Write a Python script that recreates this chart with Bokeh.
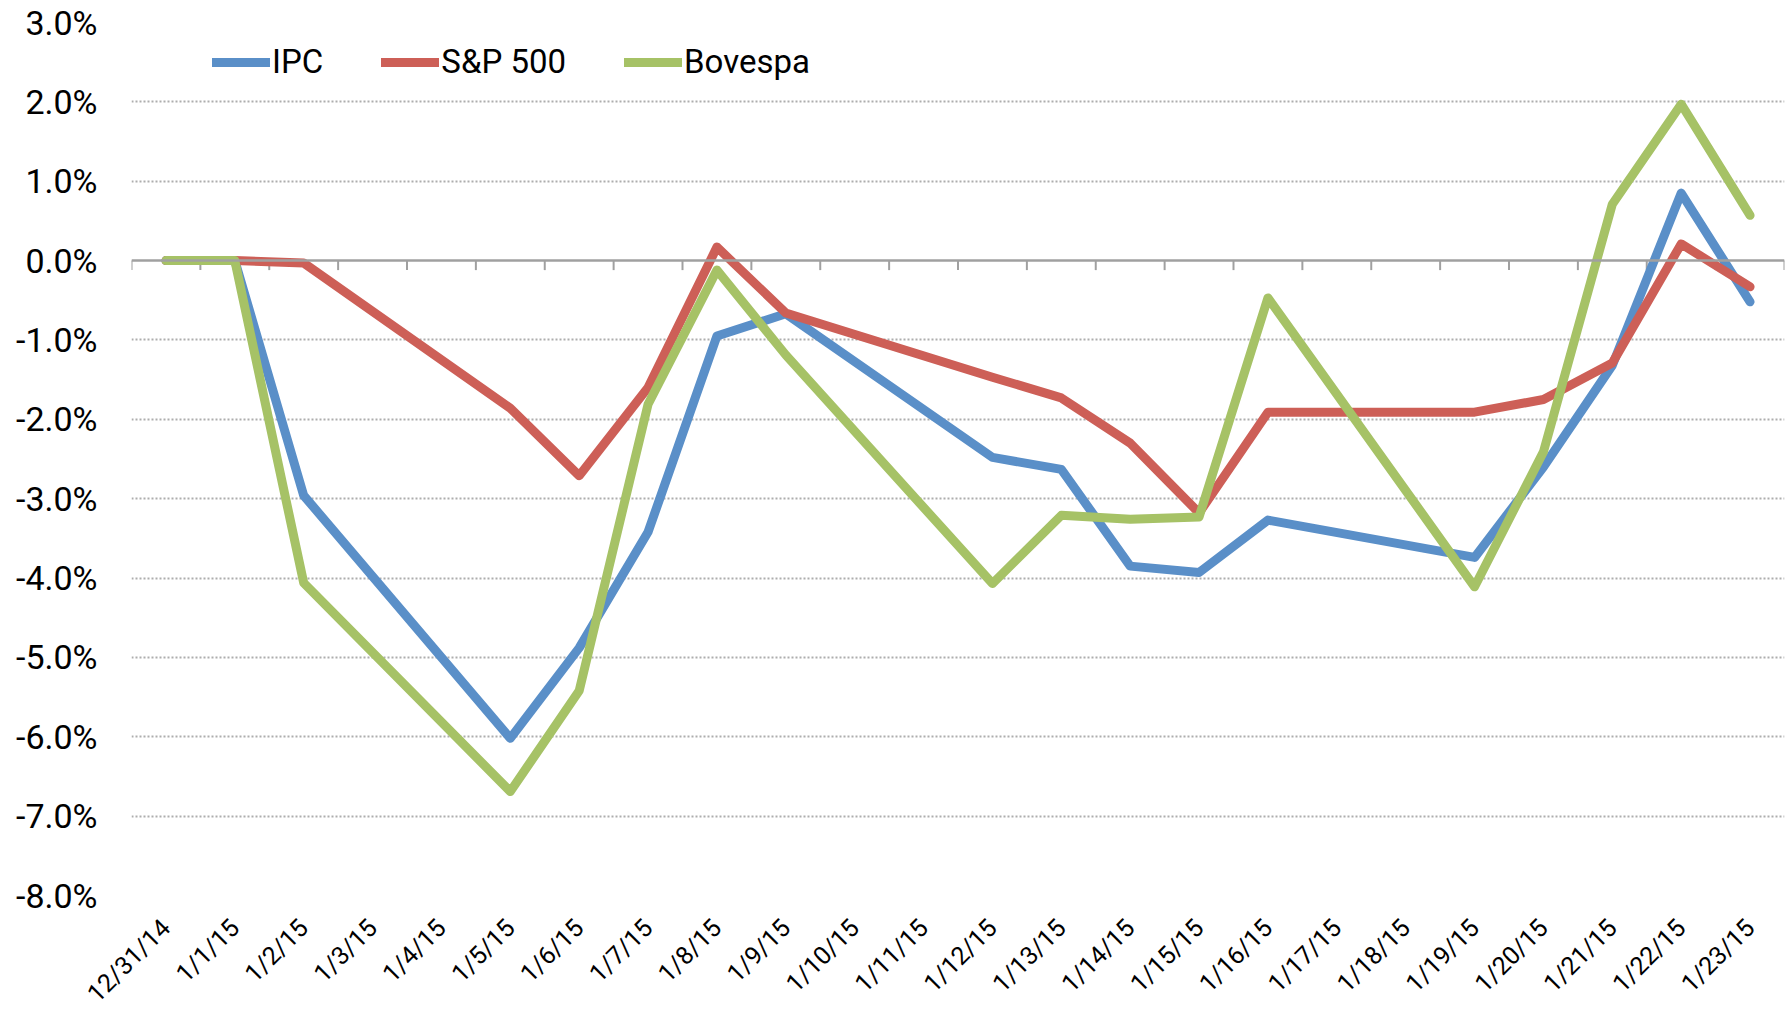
import math
from bokeh.plotting import figure
from bokeh.models import (FactorRange, Range1d, Legend, LegendItem, Span,
                          PrintfTickFormatter, FixedTicker, ColumnDataSource)
from bokeh.embed import file_html
from bokeh.resources import INLINE

# ---- data (percent) ----
dates = ["12/31/14", "1/1/15", "1/2/15", "1/3/15", "1/4/15", "1/5/15", "1/6/15",
         "1/7/15", "1/8/15", "1/9/15", "1/10/15", "1/11/15", "1/12/15", "1/13/15",
         "1/14/15", "1/15/15", "1/16/15", "1/17/15", "1/18/15", "1/19/15",
         "1/20/15", "1/21/15", "1/22/15", "1/23/15"]
ipc = [0.0, 0.0, -2.96, None, None, -6.02, -4.88, -3.42, -0.95, -0.67, None, None,
       -2.48, -2.63, -3.85, -3.93, -3.27, None, None, -3.74, -2.60, -1.32, 0.85, -0.52]
sp500 = [0.0, 0.0, -0.03, None, None, -1.86, -2.71, -1.60, 0.17, -0.66, None, None,
         -1.47, -1.73, -2.30, -3.18, -1.91, None, None, -1.91, -1.75, -1.29, 0.21, -0.33]
bovespa = [0.0, 0.0, -4.06, None, None, -6.69, -5.42, -1.81, -0.12, -1.19, None, None,
           -4.07, -3.21, -3.26, -3.23, -0.47, None, None, -4.11, -2.41, 0.71, 1.97, 0.57]
series_names = ["IPC", "S&P 500", "Bovespa"]
series_values = [ipc, sp500, bovespa]
series_colors = ["#5A8FC8", "#CD5F57", "#A6C266"]
y_ticks = [-8, -7, -6, -5, -4, -3, -2, -1, 0, 1, 2, 3]

FONT = "Roboto"

p = figure(width=1787, height=1021, x_range=FactorRange(*dates, range_padding=0),
           y_range=Range1d(min(y_ticks), max(y_ticks)),
           output_backend="svg", toolbar_location=None,
           min_border_left=131, min_border_right=3, min_border_top=22,
           min_border_bottom=126)
p.outline_line_color = None
p.background_fill_color = "white"
p.border_fill_color = "white"

# grid
p.xgrid.grid_line_color = None
p.ygrid.ticker = FixedTicker(ticks=[t for t in y_ticks if t != 0])
p.ygrid.grid_line_color = "#ADADAD"
p.ygrid.grid_line_width = 2
p.ygrid.grid_line_dash = "2 2"

# y axis
p.yaxis.ticker = FixedTicker(ticks=y_ticks)
p.yaxis.formatter = PrintfTickFormatter(format="%.1f%%")
p.yaxis.axis_line_color = None
p.yaxis.major_tick_line_color = None
p.yaxis.minor_tick_line_color = None
p.yaxis.major_tick_out = 0
p.yaxis.major_label_standoff = 34
p.yaxis.major_label_text_font = FONT
p.yaxis.major_label_text_font_size = "34px"
p.yaxis.major_label_text_color = "black"

# x axis: labels only, rotated
p.xaxis.axis_line_color = None
p.xaxis.major_tick_line_color = None
p.xaxis.major_tick_out = 0
p.xaxis.major_tick_in = 0
p.xaxis.major_label_orientation = math.pi / 4
p.xaxis.major_label_standoff = 28
p.xaxis.major_label_text_font = FONT
p.xaxis.major_label_text_font_size = "25px"
p.xaxis.major_label_text_color = "black"

# horizontal category axis line at zero with tick marks between categories
p.add_layout(Span(location=0, dimension="width", line_color="#A0A0A0", line_width=2.5))
bounds = list(range(len(dates) + 1))
p.segment(x0=bounds, x1=bounds, y0=[0] * len(bounds), y1=[-0.12] * len(bounds),
          line_color="#A0A0A0", line_width=2)

items = []
for name, vals, col in zip(series_names, series_values, series_colors):
    xs = [d for d, v in zip(dates, vals) if v is not None]
    ys = [v for v in vals if v is not None]
    src = ColumnDataSource(dict(x=xs, y=ys))
    r = p.line("x", "y", source=src, line_color=col, line_width=9,
               line_join="round", line_cap="round")
    items.append(LegendItem(label=name, renderers=[r]))

legend = Legend(items=items, orientation="horizontal", location=(81, 814),
                glyph_width=58, glyph_height=20, label_standoff=2, spacing=58,
                padding=0, margin=0, border_line_color=None,
                background_fill_alpha=0, label_text_font=FONT,
                label_text_font_size="33px", label_text_color="black")
p.add_layout(legend)

open("out.html", "w").write(file_html(p, INLINE))
